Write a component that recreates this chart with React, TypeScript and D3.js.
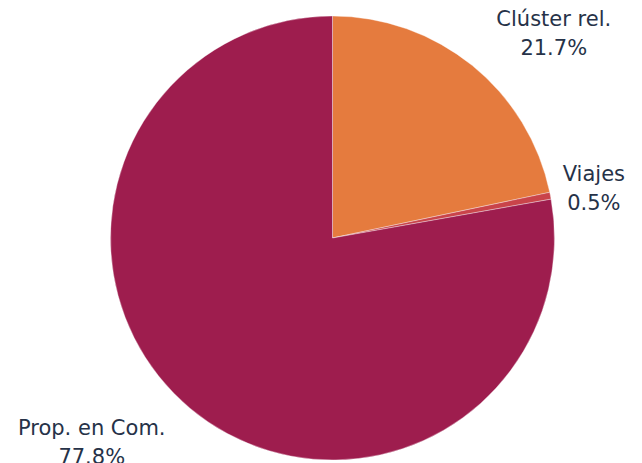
import React, { useRef, useEffect } from 'react'
import { select, pie, arc } from 'd3'

const categories = ['Clúster rel.', 'Viajes', 'Prop. en Com.']
const shares = [21.7, 0.5, 77.8]
const colors = ['#e57b3e', '#c9444a', '#9e1d4e']

const W = 642
const H = 463

const App = () => {
    const ref = useRef<any>()

    useEffect(() => {
        const svg = select(ref.current)
        svg.selectAll('*').remove()

        const cx = 332.5
        const cy = 238
        const r = 222
        const labelR = 260

        const data = categories.map((name, i) => ({ name, value: shares[i], color: colors[i] }))
        const slices = pie<any>().sort(null).value(d => d.value)(data)
        const path = arc<any>().innerRadius(0).outerRadius(r)
        const outer = arc<any>().innerRadius(labelR).outerRadius(labelR)

        const g = svg.append('g').attr('transform', `translate(${cx},${cy})`)

        g.selectAll('path')
            .data(slices)
            .join('path')
            .attr('d', path)
            .attr('fill', d => d.data.color)
            .attr('stroke', '#ffffff')
            .attr('stroke-opacity', 0.6)
            .attr('stroke-width', 0.6)

        // labels: pushed outward from the slice mid-angle, kept inside the canvas sideways
        const pad = 17
        slices.forEach(s => {
            const [bx, by] = outer.centroid(s)
            const side = bx >= 0 ? 1 : -1
            const cos = -by / labelR
            const t = g.append('text')
                .attr('text-anchor', 'middle')
                .attr('font-family', '"DejaVu Sans", sans-serif')
                .attr('font-size', 21)
                .attr('fill', '#263248')
            const l1 = t.append('tspan').text(s.data.name)
            const l2 = t.append('tspan').text(`${s.data.value}%`)
            const w = Math.max(
                (l1.node() as any).getComputedTextLength(),
                (l2.node() as any).getComputedTextLength()
            )
            let x = bx + side * w / 2
            x = Math.min(x, W - pad - cx - w / 2)
            x = Math.max(x, pad - cx + w / 2)
            const mid = by + 8 - 5 * cos
            l1.attr('x', x).attr('y', mid - 14.5)
            l2.attr('x', x).attr('y', mid + 14.5)
        })
    }, [])

    return (
        <svg
            ref={ref}
            width={W}
            height={H}
            style={{ position: 'absolute', left: 0, top: 0, background: '#ffffff' }}
        />
    )
}

export default App
